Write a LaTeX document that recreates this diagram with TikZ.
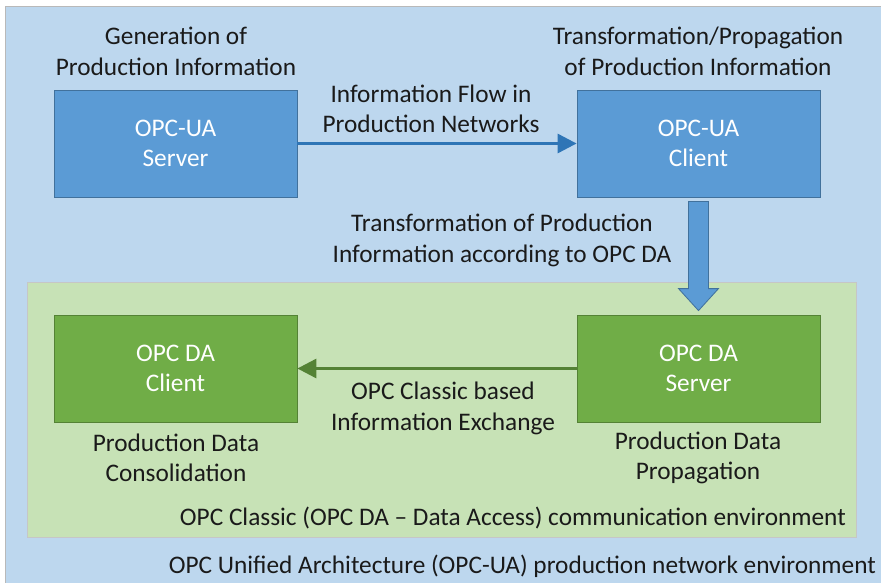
\documentclass[tikz,border=0pt]{standalone}
\usepackage{fontspec}
\setmainfont{Carlito}
\usetikzlibrary{arrows.meta,calc}
\definecolor{bgblue}{HTML}{BDD7EE}
\definecolor{bggreen}{HTML}{C7E2B6}
\definecolor{boxblue}{HTML}{5B9BD5}
\definecolor{boxblueline}{HTML}{41719C}
\definecolor{boxgreen}{HTML}{70AD47}
\definecolor{boxgreenline}{HTML}{548235}
\definecolor{arrowblue}{HTML}{2E75B6}
\definecolor{arrowgreen}{HTML}{548235}
\definecolor{txt}{HTML}{1A1A1A}
\tikzset{
  uabox/.style={draw=boxblueline, line width=0.8pt, fill=boxblue, minimum width=243pt, minimum height=107pt, inner sep=0pt, text=white, align=center},
  dabox/.style={draw=boxgreenline, line width=0.8pt, fill=boxgreen, minimum width=243pt, minimum height=107pt, inner sep=0pt, text=white, align=center},
  lbl/.style={text=txt, align=center, inner sep=0pt},
}
\begin{document}
\begin{tikzpicture}[x=1pt,y=-1pt, font=\fontsize{25.3}{30.5}\selectfont]
\useasboundingbox (0,0) rectangle (881,583);
\fill[white] (0,0) rectangle (881,583);
\draw[fill=bgblue, draw=gray!55, line width=0.8pt] (5,6) rectangle (890,595);
\draw[fill=bggreen, draw=gray!45, line width=0.8pt] (27,282) rectangle (856,537);

\node[uabox] (uas) at (175.5,143.5) {OPC-UA\\Server};
\node[uabox] (uac) at (698.5,143.5) {OPC-UA\\Client};
\node[dabox] (dac) at (175.5,368.5) {OPC DA\\Client};
\node[dabox] (das) at (698.5,368.5) {OPC DA\\Server};

\node[lbl] (l1) at (176,51.5) {Generation of\\Production Information};
\node[lbl] (l2) at (698,51.5) {Transformation/Propagation\\of Production Information};
\node[lbl] (l3) at (431,109) {Information Flow in\\Production Networks};
\node[lbl] (l4) at (502,240.5) {Transformation of Production\\Information according to OPC DA};
\node[lbl] (l5) at (443,408.5) {OPC Classic based\\Information Exchange};
\node[lbl] (l6) at (176,458) {Production Data\\Consolidation};
\node[lbl] (l7) at (698,458) {Production Data\\Propagation};
\node[lbl, anchor=east] (l8) at (846,518) {OPC Classic (OPC DA -- Data Access) communication environment};
\node[lbl, anchor=east] (l9) at (876,566) {OPC Unified Architecture (OPC-UA) production network environment};

\draw[arrowblue, line width=3pt, -{Triangle[length=19pt,width=19pt]}] (uas.east) -- (uac.west);
\draw[arrowgreen, line width=3pt, -{Triangle[length=19pt,width=19pt]}] (das.west) -- (dac.east);

\coordinate (top) at ($(uac.south)+(0,4)$);
\coordinate (tip) at ($(das.north)+(0,-4)$);
\draw[fill=boxblue, draw=boxblueline, line width=0.8pt]
  ($(top)+(-10,0)$) -- ($(top)+(10,0)$) -- ($(tip)+(10,-22)$) -- ($(tip)+(20,-22)$) -- (tip)
  -- ($(tip)+(-20,-22)$) -- ($(tip)+(-10,-22)$) -- cycle;
\end{tikzpicture}
\end{document}
